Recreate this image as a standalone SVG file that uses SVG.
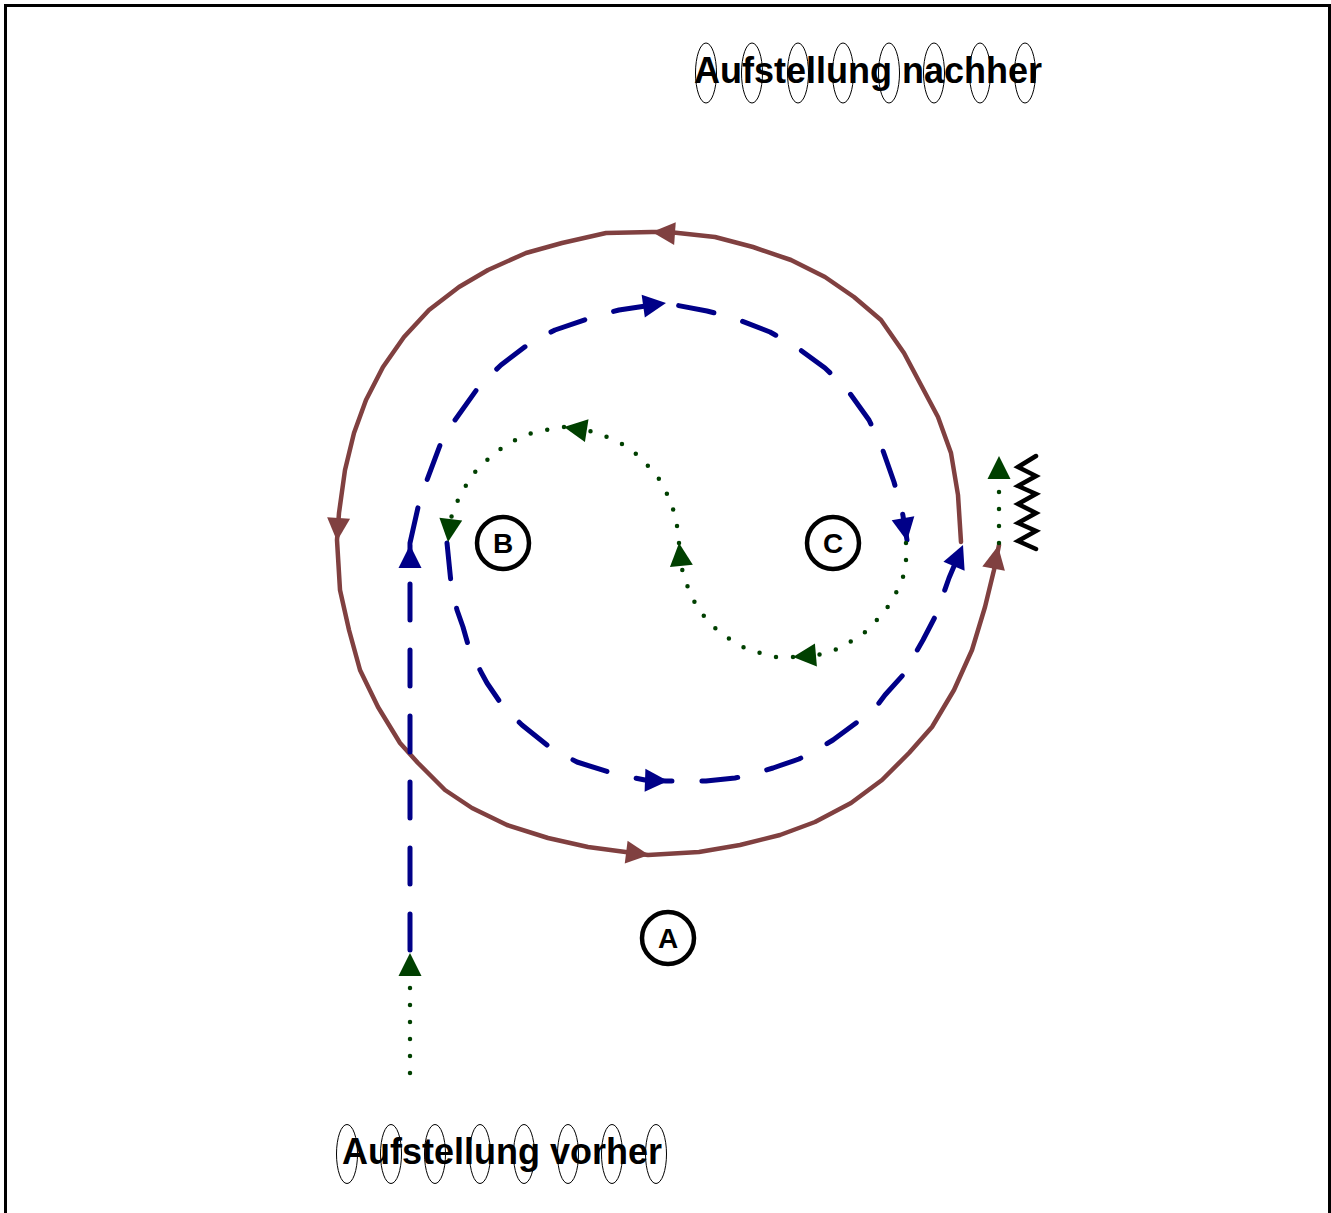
<svg xmlns="http://www.w3.org/2000/svg" width="1331" height="1213" viewBox="0 0 1331 1213">
<style>
.brown{fill:none;stroke:#804040;stroke-width:4.5;stroke-linejoin:round;stroke-linecap:round}
.blue{fill:none;stroke:#000088;stroke-width:5;stroke-linejoin:round;stroke-linecap:round;stroke-dasharray:36 30}
.green{fill:none;stroke:#004000;stroke-width:4.5;stroke-linecap:round;stroke-dasharray:0 17}
.player{fill:#fff;stroke:#000;stroke-width:1}
.lbl{font-family:"Liberation Sans",Arial,sans-serif;font-weight:bold;font-size:36px;fill:#000}
.node circle{fill:#fff;stroke:#000;stroke-width:4.5}
.node text{font-family:"Liberation Sans",Arial,sans-serif;font-weight:bold;font-size:28px;text-anchor:middle;fill:#000}
</style>
<defs>
<path id="ah" d="M0,0 L-23,-11.5 L-23,11.5 Z"/>
</defs>
<rect x="5.5" y="5.5" width="1324" height="1300" fill="#fff" stroke="#000" stroke-width="3"/>

<g id="connectors">
<polyline class="brown" points="961,542 958,495 951,453 938,417 904,353 881,320 854,297 825,277 791,260 753,247 715,237 669,232 652,232 606,233 562,243 526,253 488,270 459,287 429,310 404,337 383,367 366,400 354,433 345,470 339,513 337,540 340,590 349,630 360,670 378,707 400,743 418,763 445,790 472,808 507,825 548,838 588,847 648,855 699,852 740,845 780,835 815,822 851,803 882,780 909,753 932,727 954,690 972,650 985,607 994,570 999,545"/>
<polyline class="blue" points="410,950 410,545"/>
<polyline class="blue" points="410,543 419,503 427,480 442,440 455,420 480,385 501,365 530,343 555,330 593,317 619,310 665,303 707,311 734,318 770,332 795,346 825,368 846,388 869,420 881,445 894,482 902,510 907,540"/>
<polyline class="blue" points="447,543 451,583 457,610 463,627 469,648 481,672 487,683 502,705 522,725 552,749 577,762 615,774 645,780 666,781 706,781 735,778 749,775 773,768 799,759 815,751 833,740 856,723 876,707 885,695 903,675 923,640 936,615 949,578 963,545"/>
<polyline class="green" points="906,543 906,561 903,577 896,593 887,608 876,621 864,633 850,642 835,650 818,655 793,657"/>
<polyline class="green" points="793,657 775,657 760,653 743,647 728,638 715,628 703,615 694,601 687,585 682,569 679,543"/>
<polyline class="green" points="679,543 677,526 673,509 667,494 659,479 648,466 636,454 622,444 607,437 590,431 564,427"/>
<polyline class="green" points="564,427 546,430 529,434 513,441 499,450 486,461 474,473 465,487 457,502 451,518 448,542"/>
<polyline class="green" points="410,1073 410,955"/>
<polyline class="green" points="999,543 999,460"/>
<use href="#ah" fill="#000088" transform="translate(410,545) rotate(-90)"/>
<use href="#ah" fill="#000088" transform="translate(666,303) rotate(-8)"/>
<use href="#ah" fill="#000088" transform="translate(907,541) rotate(80)"/>
<use href="#ah" fill="#000088" transform="translate(668,781) rotate(2)"/>
<use href="#ah" fill="#000088" transform="translate(963,545) rotate(-67)"/>
<use href="#ah" fill="#004000" transform="translate(793,657) rotate(175)"/>
<use href="#ah" fill="#004000" transform="translate(679,543) rotate(-96)"/>
<use href="#ah" fill="#004000" transform="translate(564,427) rotate(-171)"/>
<use href="#ah" fill="#004000" transform="translate(448,542) rotate(97)"/>
<use href="#ah" fill="#004000" transform="translate(410,953) rotate(-90)"/>
<use href="#ah" fill="#004000" transform="translate(999,456) rotate(-90)"/>
<use href="#ah" fill="#804040" transform="translate(652,232) rotate(184)"/>
<use href="#ah" fill="#804040" transform="translate(337,541) rotate(94)"/>
<use href="#ah" fill="#804040" transform="translate(649,855) rotate(7)"/>
<use href="#ah" fill="#804040" transform="translate(998,546) rotate(-79)"/>
</g>

<g id="wall">
<polyline points="1036,456 1018,467 1036,476 1018,486 1036,494 1018,504 1036,513 1018,523 1036,531 1018,541 1036,549" fill="none" stroke="#000" stroke-width="4.5" stroke-linejoin="miter" stroke-linecap="round"/>
</g>

<g id="node-B" class="node"><circle cx="503" cy="543" r="26"/><text x="503" y="553">B</text></g>
<g id="node-C" class="node"><circle cx="833" cy="543" r="26"/><text x="833" y="553">C</text></g>
<g id="node-A" class="node"><circle cx="668" cy="938" r="26"/><text x="668" y="948">A</text></g>

<g id="aufstellung-nachher">
<ellipse class="player" cx="706" cy="73" rx="10.5" ry="30"/>
<ellipse class="player" cx="752" cy="73" rx="10.5" ry="30"/>
<ellipse class="player" cx="798" cy="73" rx="10.5" ry="30"/>
<ellipse class="player" cx="843" cy="73" rx="10.5" ry="30"/>
<ellipse class="player" cx="889" cy="73" rx="10.5" ry="30"/>
<ellipse class="player" cx="934" cy="73" rx="10.5" ry="30"/>
<ellipse class="player" cx="980" cy="73" rx="10.5" ry="30"/>
<ellipse class="player" cx="1025" cy="73" rx="10.5" ry="30"/>
<text class="lbl" x="694" y="83">Aufstellung nachher</text>
</g>

<g id="aufstellung-vorher">
<ellipse class="player" cx="347" cy="1154" rx="10.5" ry="29.5"/>
<ellipse class="player" cx="391" cy="1154" rx="10.5" ry="29.5"/>
<ellipse class="player" cx="435" cy="1154" rx="10.5" ry="29.5"/>
<ellipse class="player" cx="480" cy="1154" rx="10.5" ry="29.5"/>
<ellipse class="player" cx="524" cy="1154" rx="10.5" ry="29.5"/>
<ellipse class="player" cx="568" cy="1154" rx="10.5" ry="29.5"/>
<ellipse class="player" cx="612" cy="1154" rx="10.5" ry="29.5"/>
<ellipse class="player" cx="656" cy="1154" rx="10.5" ry="29.5"/>
<text class="lbl" x="342" y="1164">Aufstellung vorher</text>
</g>
</svg>
